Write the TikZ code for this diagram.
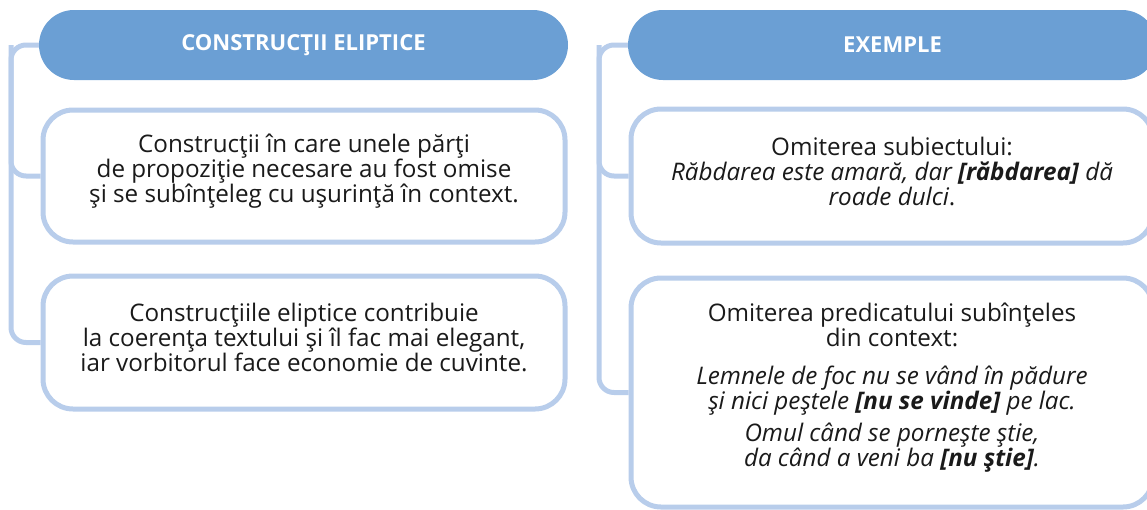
\documentclass[tikz,border=0pt]{standalone}
\usepackage{fontspec}
\setmainfont{Open Sans}
\definecolor{hdrblue}{HTML}{6B9FD4}
\definecolor{lineblue}{HTML}{B8CDEB}
\definecolor{txt}{HTML}{1A1A1A}
\begin{document}
\begin{tikzpicture}[x=1pt,y=-1pt,
  hdr/.style={fill=hdrblue,rounded corners=35pt,minimum width=529pt,minimum height=70pt,
    text=white,font=\fontsize{22}{24}\selectfont\bfseries,inner sep=0pt},
  card/.style={draw=lineblue,line width=5pt,fill=white,rounded corners=30pt,minimum width=522pt,inner sep=0pt},
  cardtext/.style={align=center,text=txt,font=\fontsize{24.2}{25}\selectfont,inner sep=0pt},
  brk/.style={draw=lineblue,line width=5pt,rounded corners=15pt}]
\useasboundingbox (0,0) rectangle (1147,509);
% left column
\node[hdr] (hL) at (303.5,45) {CONSTRUCŢII ELIPTICE};
\node[card,minimum height=132pt] (b1L) at (304,176) {};
\node[cardtext] (t1L) at (304,171) {Construcţii în care unele părţi\\de propoziţie necesare au fost omise\\şi se subînţeleg cu uşurinţă în context.};
\node[card,minimum height=133pt] (b2L) at (304,342.5) {};
\node[cardtext] (t2L) at (304,337) {Construcţiile eliptice contribuie\\la coerenţa textului şi îl fac mai elegant,\\iar vorbitorul face economie de cuvinte.};
\coordinate (vL) at (11,0);
\draw[brk] (hL.west) -- (vL |- hL.west) -- (vL |- b1L.west) -- (b1L.west);
\draw[brk] (vL |- hL.west) -- (vL |- b2L.west) -- (b2L.west);
% right column
\node[hdr] (hR) at (892.5,45) {EXEMPLE};
\node[card,minimum height=134pt] (b1R) at (892,176) {};
\node[cardtext] (t1R) at (892,171) {Omiterea subiectului:\\\textit{Răbdarea este amară, dar \textbf{[răbdarea]} dă}\\\textit{roade dulci}.};
\node[card,minimum height=229pt] (b2R) at (892,392.5) {};
\node[cardtext] (t2R) at (892,387.5) {Omiterea predicatului subînţeles\\din context:\\[13pt]\textit{Lemnele de foc nu se vând în pădure}\\\textit{şi nici peştele \textbf{[nu se vinde]} pe lac.}\\[7pt]\textit{Omul când se porneşte ştie,}\\\textit{da când a veni ba \textbf{[nu ştie]}.}};
\coordinate (vR) at (599,0);
\draw[brk] (hR.west) -- (vR |- hR.west) -- (vR |- b1R.west) -- (b1R.west);
\draw[brk] (vR |- hR.west) -- (vR |- b2R.west) -- (b2R.west);
\end{tikzpicture}
\end{document}
